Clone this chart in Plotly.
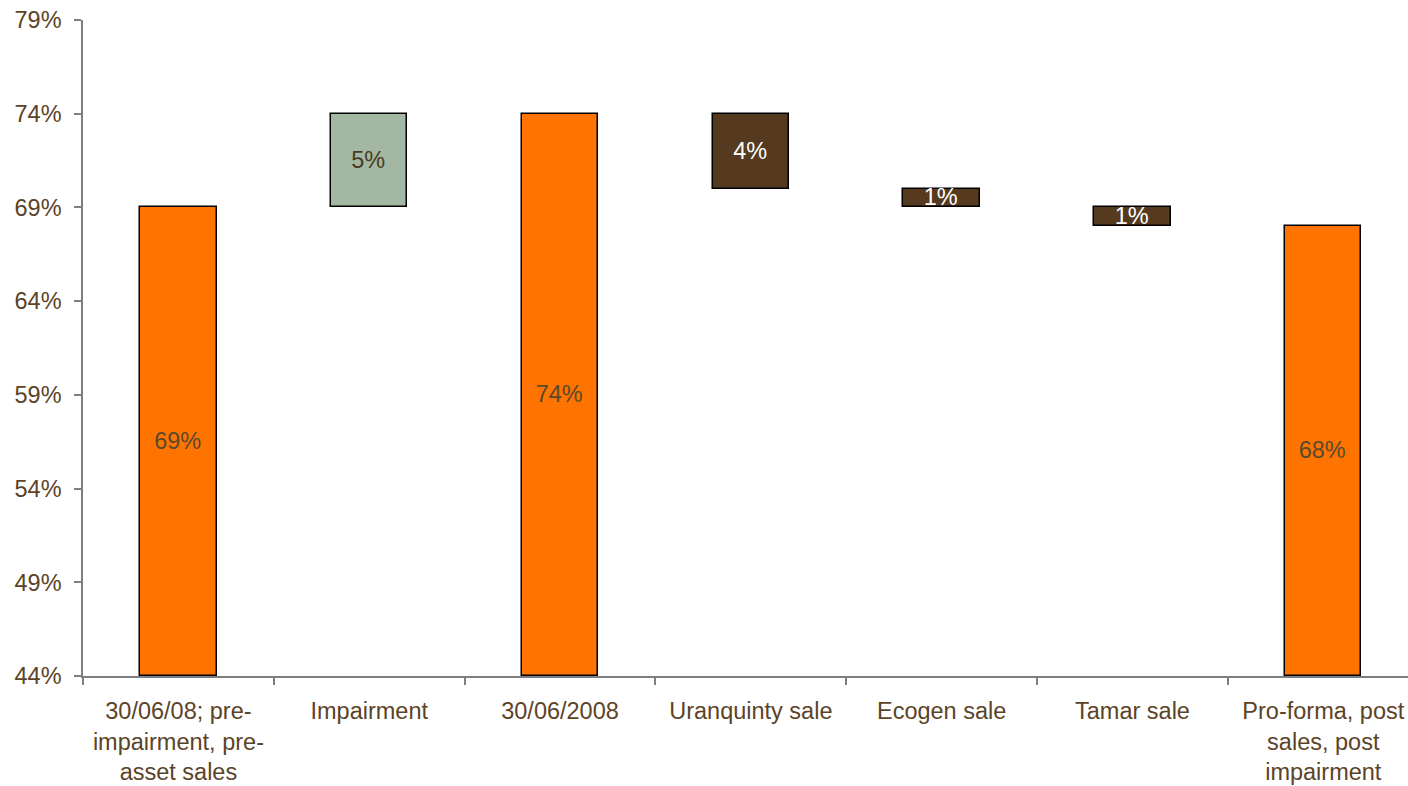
import plotly.graph_objects as go

# Waterfall of the ratio, in percentage points
categories = [
    "30/06/08; pre-<br>impairment, pre-<br>asset sales",
    "Impairment",
    "30/06/2008",
    "Uranquinty sale",
    "Ecogen sale",
    "Tamar sale",
    "Pro-forma, post<br>sales, post<br>impairment",
]
bar_bottom = [None, 69, None, 70, 69, 68, None]   # None -> total bar from the axis floor
bar_top = [69, 74, 74, 74, 70, 69, 68]
labels = ["69%", "5%", "74%", "4%", "1%", "1%", "68%"]
kinds = ["total", "up", "total", "down", "down", "down", "total"]

y_min, y_max, y_step = 44, 79, 5

fill = {"total": "#FF7300", "up": "#A3B8A3", "down": "#553A1F"}
text_col = {"total": "#5A4A2C", "up": "#4A3A22", "down": "#FFFFFF"}

bases = [y_min if b is None else b for b in bar_bottom]
heights = [t - b for t, b in zip(bar_top, bases)]

font = "Liberation Sans, Arial, sans-serif"
axis_text = "#5C4327"
fsize = 23.5

fig = go.Figure(
    go.Bar(
        x=categories,
        y=heights,
        base=bases,
        width=0.4,
        marker=dict(
            color=[fill[k] for k in kinds],
            line=dict(color="#000000", width=1.5),
        ),
        text=labels,
        textposition="inside",
        insidetextanchor="middle",
        textangle=0,
        constraintext="none",
        insidetextfont=dict(family=font, size=fsize, color=[text_col[k] for k in kinds]),
        hoverinfo="skip",
    )
)

fig.update_layout(
    width=1408,
    height=786,
    margin=dict(l=83, r=0, t=20, b=110),
    paper_bgcolor="white",
    plot_bgcolor="white",
    showlegend=False,
    font=dict(family=font, size=fsize, color=axis_text),
    bargap=0,
)

fig.update_xaxes(
    type="category",
    range=[-0.5, 6.444],
    showgrid=False,
    showline=True,
    linecolor="#7F7F7F",
    linewidth=1.5,
    ticks="outside",
    tickson="boundaries",
    ticklen=7,
    tickcolor="#7F7F7F",
    tickwidth=1.5,
    ticklabelstandoff=13,
    tickfont=dict(family=font, size=fsize, color=axis_text),
)

fig.update_yaxes(
    range=[y_min, y_max],
    tickvals=list(range(y_min, y_max + 1, y_step)),
    ticktext=[f"{v}%" for v in range(y_min, y_max + 1, y_step)],
    showgrid=False,
    zeroline=False,
    showline=True,
    linecolor="#7F7F7F",
    linewidth=1.5,
    ticks="outside",
    ticklen=7,
    tickcolor="#7F7F7F",
    tickwidth=1.5,
    ticklabelstandoff=8,
    tickfont=dict(family=font, size=fsize, color=axis_text),
)

fig.write_html("out.html")
